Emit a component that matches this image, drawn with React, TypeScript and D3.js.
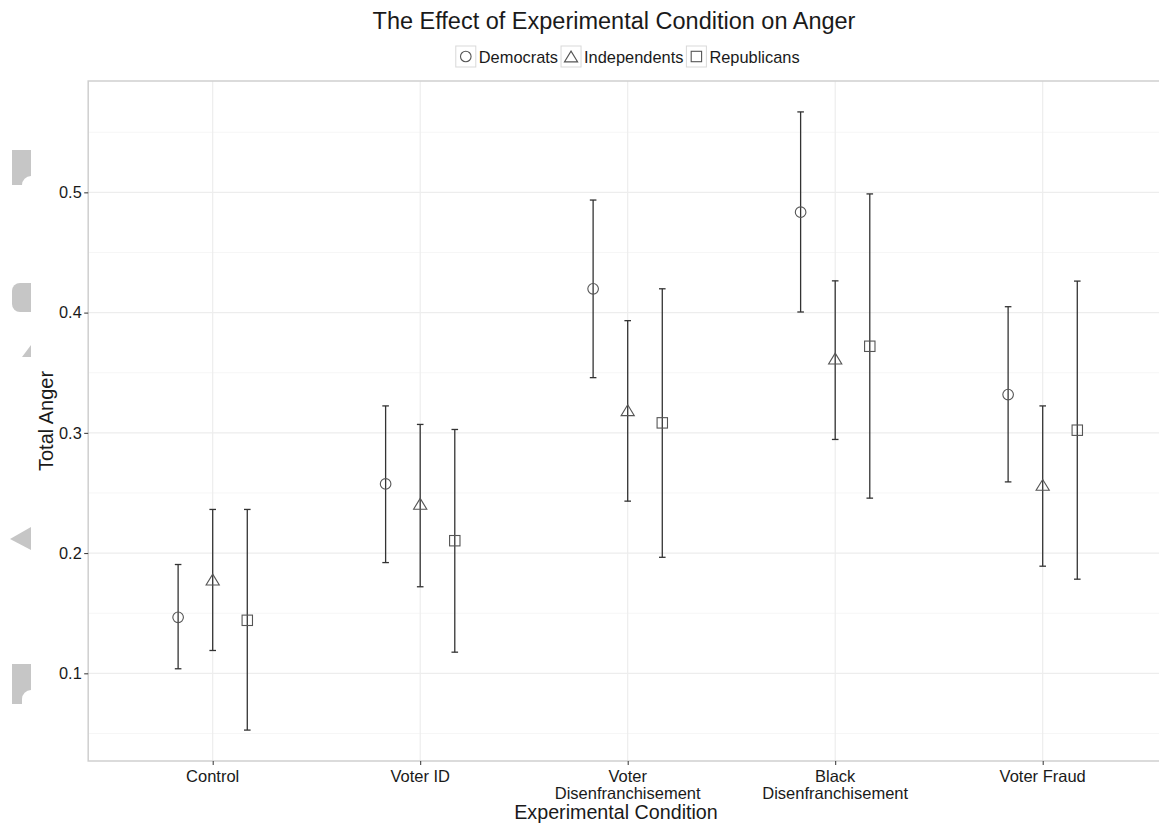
import React, { useEffect, useRef } from 'react';
import * as d3 from 'd3';

const width = 1159;
const height = 825;

const categories = ['Control', 'Voter ID', 'Voter\nDisenfranchisement', 'Black\nDisenfranchisement', 'Voter Fraud'];
const groups = ['Democrats', 'Independents', 'Republicans'];

const democratsMean = [0.1466, 0.2575, 0.4198, 0.4835, 0.3318];
const democratsLow = [0.1038, 0.1921, 0.3459, 0.4005, 0.2592];
const democratsHigh = [0.1905, 0.3224, 0.4936, 0.5669, 0.4049];

const independentsMean = [0.178, 0.241, 0.3188, 0.3618, 0.2567];
const independentsLow = [0.119, 0.172, 0.2432, 0.2945, 0.1891];
const independentsHigh = [0.2363, 0.307, 0.3933, 0.4264, 0.3224];

const republicansMean = [0.1441, 0.2103, 0.3083, 0.372, 0.3022];
const republicansLow = [0.0528, 0.1176, 0.1965, 0.2457, 0.1783];
const republicansHigh = [0.2363, 0.3028, 0.4198, 0.4987, 0.4262];

const yTicks = [0.1, 0.2, 0.3, 0.4, 0.5];
const yMinor = [0.05, 0.15, 0.25, 0.35, 0.45, 0.55];

const FONT = 'Liberation Sans, Arial, Helvetica, sans-serif';

const App: React.FC = () => {
  const ref = useRef<SVGSVGElement>(null);

  useEffect(() => {
    if (!ref.current) return;
    const svg = d3.select(ref.current);
    svg.selectAll('*').remove();

    const means = [democratsMean, independentsMean, republicansMean];
    const lows = [democratsLow, independentsLow, republicansLow];
    const highs = [democratsHigh, independentsHigh, republicansHigh];
    const rows = groups.flatMap((g, gi) =>
      categories.map((c, ci) => ({ group: g, gi, cat: c, mean: means[gi][ci], lo: lows[gi][ci], hi: highs[gi][ci] }))
    );

    // expanded like ggplot (5%)
    const dmin = d3.min(rows, d => d.lo) as number;
    const dmax = d3.max(rows, d => d.hi) as number;
    const pad = (dmax - dmin) * 0.05;

    const top = 81;
    const bottom = 761;
    const x = d3.scalePoint<string>().domain(categories).range([212.7, 1042.7]);
    const step = x.step();
    const left = x(categories[0])! - 0.6 * step;
    const right = x(categories[categories.length - 1])! + 0.6 * step;
    const y = d3.scaleLinear().domain([dmin - pad, dmax + pad]).range([bottom, top]);
    const dodge = d3.scaleBand<number>().domain([0, 1, 2]).range([-0.25 * step, 0.25 * step]);
    const off = (gi: number) => dodge(gi)! + dodge.bandwidth() / 2;

    // decorative grey fragments at left edge
    const deco = svg.append('g').attr('fill', '#c6c6c6');
    deco.append('path').attr('d', 'M12,150 H31 V176 A9,9 0 0 0 22,185 H12 Z');
    deco.append('path').attr('d', 'M31,283 H20 A8,8 0 0 0 12,291 V304 A8,8 0 0 0 20,312 H31 Z');
    deco.append('path').attr('d', 'M31,345 V357 H22 Z');
    deco.append('path').attr('d', 'M31,527 V550 L10,539 Z');
    deco.append('path').attr('d', 'M12,664 H31 V690 A9,9 0 0 0 22,699 V704 H12 Z');

    // panel
    const panel = svg.append('g');
    panel.append('rect').attr('x', left).attr('y', top).attr('width', right - left).attr('height', bottom - top).attr('fill', '#fff');
    panel.selectAll('line.minor').data(yMinor).enter().append('line')
      .attr('x1', left).attr('x2', right).attr('y1', d => y(d)).attr('y2', d => y(d))
      .attr('stroke', '#f6f6f6').attr('stroke-width', 1);
    panel.selectAll('line.majory').data(yTicks).enter().append('line')
      .attr('x1', left).attr('x2', right).attr('y1', d => y(d)).attr('y2', d => y(d))
      .attr('stroke', '#ededed').attr('stroke-width', 1.2);
    panel.selectAll('line.majorx').data(categories).enter().append('line')
      .attr('x1', d => x(d)!).attr('x2', d => x(d)!).attr('y1', top).attr('y2', bottom)
      .attr('stroke', '#ededed').attr('stroke-width', 1.2);
    panel.append('rect').attr('x', left).attr('y', top).attr('width', right - left).attr('height', bottom - top)
      .attr('fill', 'none').attr('stroke', '#cfcfcf').attr('stroke-width', 1.5);

    // axes
    const yAxis = svg.append('g').attr('transform', `translate(${left},0)`)
      .call(d3.axisLeft(y).tickValues(yTicks).tickSize(4).tickPadding(2.5).tickFormat(d3.format('.1f')));
    yAxis.select('.domain').remove();
    yAxis.selectAll('line').attr('stroke', '#333');
    yAxis.selectAll('text').attr('font-family', FONT).attr('font-size', 16.3).attr('fill', '#1a1a1a');

    const xAxis = svg.append('g').attr('transform', `translate(0,${bottom})`)
      .call(d3.axisBottom(x).tickSize(4).tickFormat(() => ''));
    xAxis.select('.domain').remove();
    xAxis.selectAll('line').attr('stroke', '#333');

    const xl = svg.append('g').attr('font-family', FONT).attr('font-size', 16.5).attr('fill', '#1a1a1a').attr('text-anchor', 'middle');
    categories.forEach(c => {
      const t = xl.append('text').attr('x', x(c)!).attr('y', 782);
      c.split('\n').forEach((ln, i) => {
        t.append('tspan').attr('x', x(c)!).attr('dy', i === 0 ? 0 : 17.4).text(ln);
      });
    });

    // error bars and points
    const marks = svg.append('g');
    const cap = 3.3;
    rows.forEach(d => {
      const cx = x(d.cat)! + off(d.gi);
      marks.append('line').attr('x1', cx).attr('x2', cx).attr('y1', y(d.lo)).attr('y2', y(d.hi))
        .attr('stroke', '#333').attr('stroke-width', 1.3);
      [d.lo, d.hi].forEach(v => {
        marks.append('line').attr('x1', cx - cap).attr('x2', cx + cap).attr('y1', y(v)).attr('y2', y(v))
          .attr('stroke', '#333').attr('stroke-width', 1.3);
      });
    });

    const drawShape = (g: d3.Selection<SVGGElement, unknown, null, undefined>, gi: number, cx: number, cy: number, s: number) => {
      const attrs = (e: any) => e.attr('fill', 'none').attr('stroke', '#555').attr('stroke-width', 1.1);
      if (gi === 0) {
        attrs(g.append('circle').attr('cx', cx).attr('cy', cy).attr('r', 5.3 * s));
      } else if (gi === 1) {
        const hw = 6.6 * s;
        const hh = 5.4 * s;
        attrs(g.append('path').attr('d', `M${cx},${cy - hh} L${cx + hw},${cy + hh} L${cx - hw},${cy + hh} Z`));
      } else {
        const h = 5.2 * s;
        attrs(g.append('rect').attr('x', cx - h).attr('y', cy - h).attr('width', 2 * h).attr('height', 2 * h));
      }
    };

    rows.forEach(d => {
      const cx = x(d.cat)! + off(d.gi);
      drawShape(marks as any, d.gi, cx, y(d.mean), 1);
    });

    // title
    svg.append('text').attr('x', 614).attr('y', 29).attr('text-anchor', 'middle')
      .attr('font-family', FONT).attr('font-size', 23.5).attr('fill', '#1a1a1a')
      .text('The Effect of Experimental Condition on Anger');

    // legend
    const leg = svg.append('g').attr('font-family', FONT).attr('font-size', 16.4).attr('fill', '#1a1a1a');
    const keyW = 20;
    const keyH = 21;
    const gapKT = 3;
    const gapItem = 3;
    const items = groups.map(g => {
      const t = leg.append('text').attr('y', 63).text(g);
      return { g, t, w: (t.node() as SVGTextElement).getComputedTextLength() };
    });
    const total = d3.sum(items, d => keyW + gapKT + d.w) + gapItem * (items.length - 1);
    let cursor = (left + right) / 2 - total / 2;
    items.forEach((it, gi) => {
      leg.append('rect').attr('x', cursor).attr('y', 46).attr('width', keyW).attr('height', keyH)
        .attr('fill', '#fff').attr('stroke', '#d9d9d9').attr('stroke-width', 1);
      drawShape(leg as any, gi, cursor + keyW / 2, 46 + keyH / 2, 1);
      it.t.attr('x', cursor + keyW + gapKT);
      cursor += keyW + gapKT + it.w + gapItem;
    });

    // axis titles
    svg.append('text').attr('x', 616).attr('y', 819).attr('text-anchor', 'middle')
      .attr('font-family', FONT).attr('font-size', 19.7).attr('fill', '#1a1a1a').text('Experimental Condition');
    svg.append('text').attr('transform', `translate(53,${(top + bottom) / 2}) rotate(-90)`).attr('text-anchor', 'middle')
      .attr('font-family', FONT).attr('font-size', 20).attr('fill', '#1a1a1a').text('Total Anger');
  }, []);

  return (
    <div style={{ position: 'absolute', top: 0, left: 0, width, height, overflow: 'hidden', background: '#fff' }}>
      <svg ref={ref} width={width} height={height} style={{ display: 'block' }} />
    </div>
  );
};

export default App;
